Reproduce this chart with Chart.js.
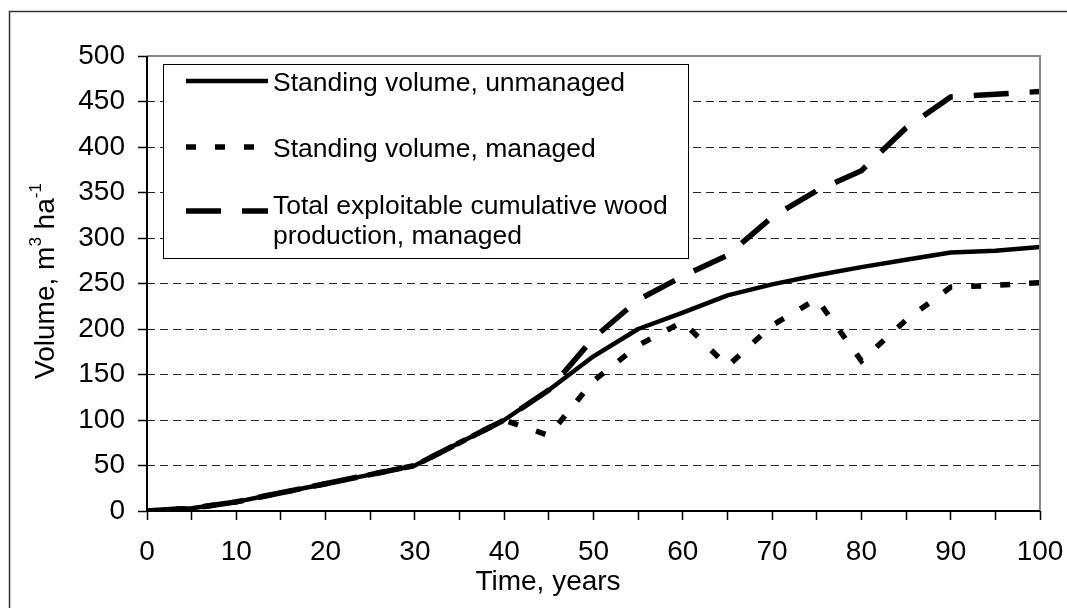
<!DOCTYPE html>
<html>
<head>
<meta charset="utf-8">
<script src="https://cdn.jsdelivr.net/npm/chart.js@4"></script>
<style>
  html, body { margin: 0; padding: 0; background: #fff; overflow: hidden; }
  #wrap { position: relative; width: 1067px; height: 608px; }
  canvas { display: block; }
</style>
</head>
<body>
<div id="wrap"><canvas id="c"></canvas></div>
<script>
// years on the x axis
const years = [0, 5, 10, 15, 20, 25, 30, 35, 40, 45, 50, 55, 60, 65, 70, 75, 80, 85, 90, 95, 100];

// m3 per ha
const unmanaged = [0, 3, 10, 20, 30, 40, 50, 75, 100, 133, 170, 200, 218, 237, 249, 259, 268, 276, 284, 286, 290];
const managed   = [0, 3, 10, 20, 30, 40, 50, 75, 100, 83, 143, 182, 208, 159, 204, 233, 165, 210, 246, 248, 251];
const totalWood = [0, 3, 10, 20, 30, 40, 50, 75, 100, 133, 190, 232, 258, 281, 323, 352, 374, 421, 455, 458, 461];

const seriesLabels = [
  ['Standing volume, unmanaged'],
  ['Standing volume, managed'],
  ['Total exploitable cumulative wood', 'production, managed'],
];
const yTicks = { min: 0, max: 500, step: 50 };
const xTicks = { min: 0, max: 100, step: 5 };

const FONT = 'Arial, "Liberation Sans", sans-serif';
const pts = arr => years.map((x, i) => ({ x, y: arr[i] }));

// frame, outer border, axis titles and the boxed legend
const decor = {
  id: 'decor',
  afterDraw(chart) {
    const ctx = chart.ctx;
    const a = chart.chartArea;
    ctx.save();

    // outer picture border (left + top only show)
    ctx.strokeStyle = '#333';
    ctx.lineWidth = 1.5;
    ctx.beginPath();
    ctx.moveTo(9.5, 608); ctx.lineTo(9.5, 11.5); ctx.lineTo(1067, 11.5);
    ctx.stroke();

    // plot frame
    ctx.strokeStyle = '#888';
    ctx.lineWidth = 2;
    ctx.beginPath();
    ctx.moveTo(a.left, a.top); ctx.lineTo(a.right, a.top); ctx.lineTo(a.right, a.bottom);
    ctx.stroke();
    ctx.strokeStyle = '#000';
    ctx.beginPath();
    ctx.moveTo(a.left, a.top); ctx.lineTo(a.left, a.bottom); ctx.lineTo(a.right, a.bottom);
    ctx.stroke();

    // x title
    ctx.fillStyle = '#000';
    ctx.font = '28px ' + FONT;
    ctx.textAlign = 'center';
    ctx.textBaseline = 'alphabetic';
    ctx.fillText('Time, years', 548, 590);

    // y title with superscripts
    const parts = [['Volume, m', 0], ['3', 1], [' ha', 0], ['-1', 1]];
    const big = '28px ' + FONT, small = '17px ' + FONT;
    let w = 0;
    parts.forEach(p => { ctx.font = p[1] ? small : big; w += ctx.measureText(p[0]).width; });
    ctx.translate(54, 281);
    ctx.rotate(-Math.PI / 2);
    ctx.textAlign = 'left';
    let x = -w / 2;
    parts.forEach(p => {
      ctx.font = p[1] ? small : big;
      ctx.fillText(p[0], x, p[1] ? -13 : 0);
      x += ctx.measureText(p[0]).width;
    });
    ctx.setTransform(1, 0, 0, 1, 0, 0);

    // legend box
    ctx.fillStyle = '#fff';
    ctx.fillRect(163.5, 64.5, 525, 194);
    ctx.strokeStyle = '#000';
    ctx.lineWidth = 1;
    ctx.strokeRect(163.5, 64.5, 525, 194);
    const lineY = [81, 147, 211];
    const textY = [[84], [150], [207, 237]];
    chart.data.datasets.forEach((ds, i) => {
      ctx.strokeStyle = ds.borderColor;
      ctx.lineWidth = ds.borderWidth;
      ctx.setLineDash(ds.borderDash || []);
      ctx.lineCap = 'butt';
      ctx.beginPath();
      ctx.moveTo(186, lineY[i]); ctx.lineTo(268, lineY[i]);
      ctx.stroke();
      ctx.setLineDash([]);
      ctx.fillStyle = '#000';
      ctx.font = '26.5px ' + FONT;
      ctx.textAlign = 'left';
      ctx.textBaseline = 'middle';
      seriesLabels[i].forEach((t, k) => ctx.fillText(t, 273, textY[i][k]));
    });
    ctx.restore();
  }
};

new Chart(document.getElementById('c'), {
  type: 'line',
  data: {
    datasets: [
      { label: seriesLabels[0].join(' '), data: pts(unmanaged), borderColor: '#000', borderWidth: 4.5, borderDash: [], borderJoinStyle: 'round' },
      { label: seriesLabels[1].join(' '), data: pts(managed), borderColor: '#000', borderWidth: 5.5, borderDash: [10, 19] },
      { label: seriesLabels[2].join(' '), data: pts(totalWood), borderColor: '#000', borderWidth: 5.5, borderDash: [35, 21] },
    ],
  },
  options: {
    responsive: true,
    maintainAspectRatio: false,
    animation: false,
    devicePixelRatio: 1,
    layout: { padding: { left: 0, top: 56, right: 27, bottom: 0 } },
    elements: { point: { radius: 0 }, line: { tension: 0, borderCapStyle: 'butt' } },
    plugins: { legend: { display: false }, tooltip: { enabled: false } },
    scales: {
      x: {
        type: 'linear',
        min: xTicks.min, max: xTicks.max,
        afterFit: s => { s.height = 97; s.paddingLeft = 0; s.paddingRight = 0; },
        grid: { drawOnChartArea: false, drawTicks: true, tickLength: 9, tickColor: '#000', tickWidth: 1.5 },
        border: { display: false },
        ticks: {
          stepSize: xTicks.step, autoSkip: false, maxRotation: 0, padding: 15,
          color: '#000', font: { family: FONT, size: 28 },
          callback: v => (v % 10 === 0 ? v : ''),
        },
      },
      y: {
        min: yTicks.min, max: yTicks.max,
        afterFit: s => { s.width = 147; s.paddingTop = 0; s.paddingBottom = 0; },
        grid: {
          color: c => (c.tick && (c.tick.value === yTicks.min || c.tick.value === yTicks.max)) ? 'rgba(0,0,0,0)' : '#222',
          lineWidth: 1, tickLength: 9, tickColor: '#000', tickWidth: 1.5, tickBorderDash: [],
        },
        border: { display: false, dash: [8, 5] },
        ticks: { stepSize: yTicks.step, padding: 13, color: '#000', font: { family: FONT, size: 28 } },
      },
    },
  },
  plugins: [decor],
});
</script>
</body>
</html>
